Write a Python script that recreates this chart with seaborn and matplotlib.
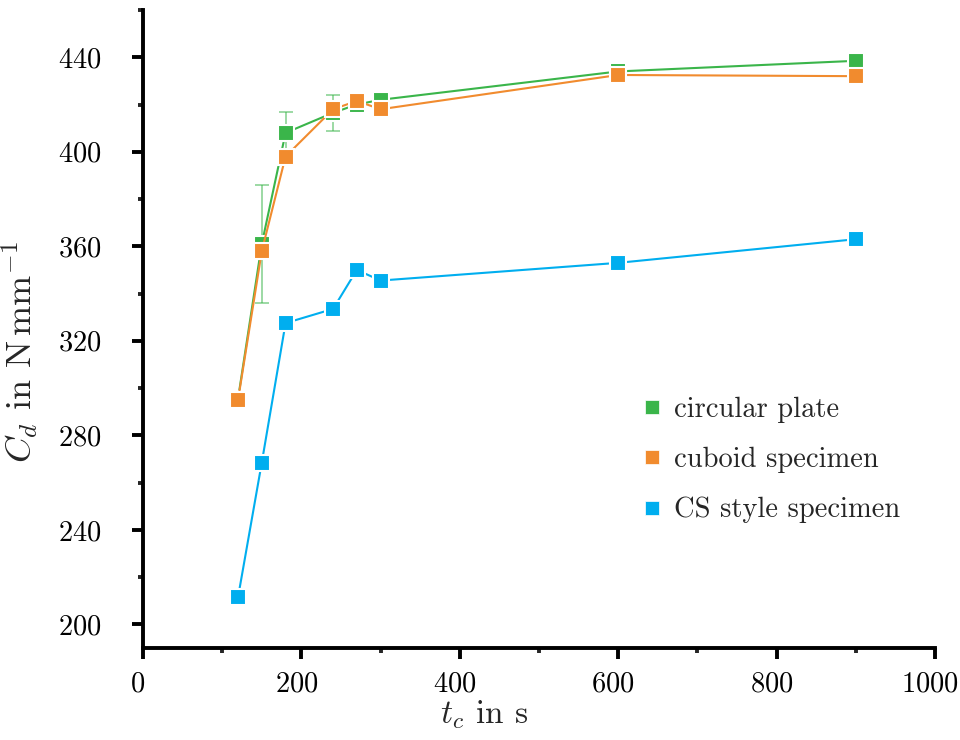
import numpy as np
import pandas as pd
import matplotlib
matplotlib.use("Agg")
import matplotlib.pyplot as plt
import matplotlib.transforms as mtransforms
import seaborn as sns
from matplotlib.lines import Line2D
from matplotlib.ticker import MultipleLocator

# ---- data ----
t_c = [120, 150, 180, 240, 270, 300, 600, 900]
circular_plate = [295.5, 361, 408, 416.5, 420, 422, 434, 438.5]
circular_err = [0, 25, 9, 7.5, 0, 3, 0, 3]
cuboid_specimen = [295, 358, 398, 418, 421.5, 418, 432.5, 432]
cs_style = [211.5, 268.5, 327.5, 333.5, 350, 345.5, 353, 363]
series_names = ["circular plate", "cuboid specimen", "CS style specimen"]
colors = ["#3AB54A", "#F18B2E", "#00AEEF"]
x_ticks = [0, 200, 400, 600, 800, 1000]
y_ticks = [200, 240, 280, 320, 360, 400, 440]

df = pd.DataFrame({
    "t": t_c * 3,
    "C": circular_plate + cuboid_specimen + cs_style,
    "series": [series_names[0]] * len(t_c) + [series_names[1]] * len(t_c) + [series_names[2]] * len(t_c),
})

sns.set_theme(style="ticks")
plt.rcParams["font.family"] = ["cmr10", "DejaVu Serif"]
plt.rcParams["mathtext.fontset"] = "cm"
plt.rcParams["axes.formatter.use_mathtext"] = True

fig = plt.figure(figsize=(9.6, 7.4), dpi=100)
ax = fig.add_axes([143 / 960, 1 - 648 / 740, 792 / 960, 638 / 740])

# error bars (behind)
ax.errorbar(t_c, circular_plate, yerr=circular_err, fmt="none",
            ecolor=colors[0], alpha=0.5, elinewidth=1.4, capsize=4.7, capthick=1.4, zorder=1)

pal = dict(zip(series_names, colors))
sns.lineplot(data=df, x="t", y="C", hue="series", palette=pal, hue_order=series_names,
             marker="s", markersize=11.5, markeredgecolor="white", markeredgewidth=1.5,
             linewidth=1.5, legend=False, ax=ax, errorbar=None, zorder=2)

ax.set_xlim(0, 1000)
ax.set_ylim(190, 460)
ax.set_xticks(x_ticks)
ax.set_yticks(y_ticks)
ax.xaxis.set_minor_locator(MultipleLocator(100))
ax.yaxis.set_minor_locator(MultipleLocator(20))

for s in ["top", "right"]:
    ax.spines[s].set_visible(False)
for s in ["left", "bottom"]:
    ax.spines[s].set_linewidth(2.8)
    ax.spines[s].set_color("black")

ax.tick_params(which="major", direction="out", length=8, width=2.8, labelsize=20.5, colors="black")
ax.tick_params(which="minor", direction="out", length=3.5, width=2.8)
ax.tick_params(axis="x", which="major", pad=9)
ax.tick_params(axis="y", which="major", pad=22)

# tick labels sit slightly left of their ticks in the reference
off = mtransforms.ScaledTranslation(-5 / 100, 0, fig.dpi_scale_trans)
for lab in ax.get_xticklabels():
    lab.set_transform(lab.get_transform() + off)

ax.set_xlabel(r"$t_c$ in s", fontsize=24)
ax.xaxis.set_label_coords((484 - 143) / 792, -(698 - 648) / 638)
ax.set_ylabel(r"$C_d$ in N$\,$mm$^{-1}$", fontsize=26)
ax.yaxis.set_label_coords(-(143 - 41) / 792, (648 - 352) / 638)

handles = [Line2D([], [], linestyle="none", marker="s", markersize=10.5,
                  markerfacecolor=c, markeredgecolor="white", markeredgewidth=0.5) for c in colors]
ax.legend(handles, series_names, loc="center left",
          bbox_to_anchor=(638 / 960, 1 - 460 / 740), bbox_transform=fig.transFigure,
          frameon=False, fontsize=20.5, handletextpad=0.25, labelspacing=0.84,
          handlelength=1.0, borderpad=0, borderaxespad=0)

fig.savefig("out.png", dpi=100)
